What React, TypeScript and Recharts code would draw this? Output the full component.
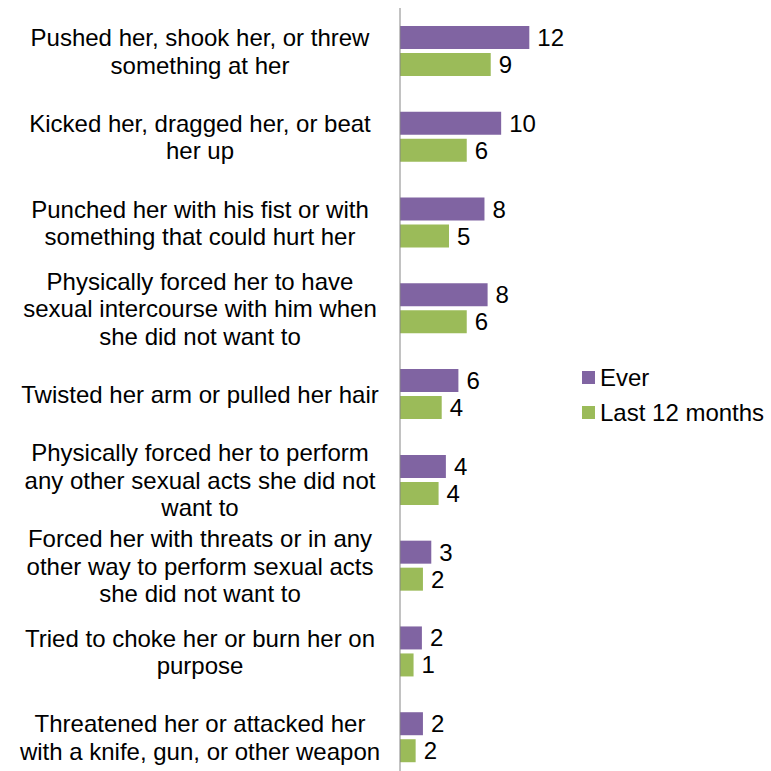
import { Bar, BarChart, LabelList, Legend, XAxis, YAxis } from 'recharts';

const categories = [
  'Pushed her, shook her, or threw\nsomething at her',
  'Kicked her, dragged her, or beat\nher up',
  'Punched her with his fist or with\nsomething that could hurt her',
  'Physically forced her to have\nsexual intercourse with him when\nshe did not want to',
  'Twisted her arm or pulled her hair',
  'Physically forced her to perform\nany other sexual acts she did not\nwant to',
  'Forced her with threats or in any\nother way to perform sexual acts\nshe did not want to',
  'Tried to choke her or burn her on\npurpose',
  'Threatened her or attacked her\nwith a knife, gun, or other weapon',
];
const ever = [12.4, 9.7, 8.1, 8.4, 5.6, 4.4, 3.0, 2.1, 2.2];
const last12 = [8.7, 6.4, 4.7, 6.4, 4.0, 3.7, 2.2, 1.3, 1.5];

const data = categories.map((c, i) => ({ cat: c, ever: ever[i], last12: last12[i] }));

const FONT = '"Liberation Sans", Arial, sans-serif';
const PURPLE = '#8064A2';
const GREEN = '#9BBB59';

function CatTick({ y, payload }: any) {
  const lines = String(payload.value).split('\n');
  const lh = 27.5;
  const start = y - ((lines.length - 1) * lh) / 2;
  return (
    <text x={200} y={start} textAnchor="middle" dominantBaseline="central" fontSize={24} fontFamily={FONT} fill="#000">
      {lines.map((l, i) => (
        <tspan key={i} x={200} y={start + i * lh}>{l}</tspan>
      ))}
    </text>
  );
}

function LegendBox() {
  const items = [
    { name: 'Ever', color: PURPLE },
    { name: 'Last 12 months', color: GREEN },
  ];
  return (
    <div style={{ fontFamily: FONT, fontSize: 24, color: '#000', lineHeight: '35px' }}>
      {items.map((it) => (
        <div key={it.name} style={{ display: 'flex', alignItems: 'center', height: 35 }}>
          <span style={{ width: 13, height: 13, background: it.color, marginRight: 5, display: 'inline-block' }} />
          {it.name}
        </div>
      ))}
    </div>
  );
}

export default function App() {
  return (
    <div style={{ position: 'absolute', left: 0, top: 0, width: 771, height: 771, overflow: 'hidden', background: '#fff' }}>
      <BarChart
        width={771}
        height={782}
        data={data}
        layout="vertical"
        margin={{ top: 8, right: 225, left: 0, bottom: 2 }}
        barSize={23}
        barGap={4}
      >
        <XAxis type="number" domain={[0, 14]} hide />
        <YAxis
          type="category"
          dataKey="cat"
          width={400}
          tickLine={false}
          axisLine={{ stroke: '#868686' }}
          tick={<CatTick />}
          interval={0}
        />
        <Legend
          layout="vertical"
          align="center"
          verticalAlign="middle"
          content={<LegendBox />}
          wrapperStyle={{ left: 582, top: 360, width: 190 }}
        />
        <Bar dataKey="ever" name="Ever" fill={PURPLE} isAnimationActive={false}>
          <LabelList
            dataKey="ever"
            position="right"
            offset={8}
            formatter={(v: any) => Math.round(Number(v))}
            style={{ fontSize: 24, fontFamily: FONT, fill: '#000' }}
          />
        </Bar>
        <Bar dataKey="last12" name="Last 12 months" fill={GREEN} isAnimationActive={false}>
          <LabelList
            dataKey="last12"
            position="right"
            offset={8}
            formatter={(v: any) => Math.round(Number(v))}
            style={{ fontSize: 24, fontFamily: FONT, fill: '#000' }}
          />
        </Bar>
      </BarChart>
    </div>
  );
}
